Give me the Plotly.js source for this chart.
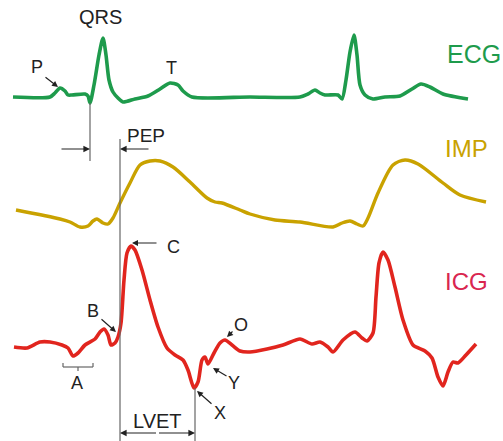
<!DOCTYPE html>
<html>
<head>
<meta charset="utf-8">
<script src="https://cdn.plot.ly/plotly-3.0.1.min.js"></script>
<style>html,body{margin:0;padding:0;background:#fff;}#chart{width:503px;height:441px;}</style>
</head>
<body>
<div id="chart"></div>
<script>
// ---- waveform data (time units, signal units; screen-like scale) ----
const ecgT = [13,50,55,60,65,68,72,85,88,90,94,99,103,106,109,113,118,123,135,148,160,170,178,183,192,250,300,308,315,320,325,338,342,346,350,354,357,360,365,373,385,400,412,421,430,443,468];
const ecgV = [97,97,93,88,91,95,95,94,96,103,85,55,38,55,80,92,98,102,99,96,89,83,85,91,97,97,97,94,90,93,95,95,99,80,52,35,55,85,95,99,97,96,89,84,87,94,99];

const impT = [16,60,70,80,88,93,97,103,108,113,120,130,140,150,160,173,190,207,215,222,240,250,275,300,333,342,350,357,363,368,378,393,405,418,443,460,486];
const impV = [210,219,222,227,226,221,219,223,224,218,203,183,165,161,161,167,182,198,202,203,210,214,220,222,227,223,221,224,226,218,193,165,160,164,183,195,202];

const icgT = [14,27,40,50,62,68,73,78,85,95,100,104,108,111,115,118,121,124,127,131,135,142,150,158,167,175,183,188,194,198,202,205,208,214,220,225,232,240,250,267,283,300,312,320,328,333,343,355,362,367,373,376,379,383,388,395,403,413,425,432,438,443,448,453,458,466,476];
const icgV = [347,348,342,342,345,348,356,353,345,339,332,329,335,345,343,337,323,280,253,246,250,270,300,327,348,355,360,370,388,382,360,357,364,353,343,340,345,351,352,349,345,339,344,342,347,352,340,332,338,341,333,297,263,252,260,287,320,345,351,358,377,386,372,362,363,355,344];

// ---- signal names ----
const signalNames = ["ECG", "IMP", "ICG"];
const signalNameT = [445, 443, 443];
const signalNameV = [54, 148, 281];

// ---- feature point labels ----
const pointLabels = ["QRS", "P", "T", "B", "C", "O", "Y", "X", "A"];
const pointLabelT = [100, 37, 171, 93, 173, 241, 234, 220, 77];
const pointLabelV = [17, 67, 68, 311, 247, 325, 383, 413, 383];

// arrows pointing at features: tail -> head
const arrowTailT = [44, 158, 100, 234, 228, 213];
const arrowTailV = [76, 243, 318, 330, 377, 405];
const arrowHeadT = [58, 132, 116, 227, 213, 197];
const arrowHeadV = [87, 243, 332, 337, 368, 391];

// intervals
const qOnsetT = 90, bPointT = 120, xPointT = 195;
const pepLevel = 149, lvetLevel = 433;

const green = "#1e9b4c", gold = "#c9a200", red = "#e1251e";
const gray = "#666666";

const traces = [
  {x: ecgT, y: ecgV, mode: "lines", line: {color: green, width: 3.6, shape: "spline", smoothing: 0.7}, hoverinfo: "skip"},
  {x: impT, y: impV, mode: "lines", line: {color: gold, width: 3.4, shape: "spline", smoothing: 0.8}, hoverinfo: "skip"},
  {x: icgT, y: icgV, mode: "lines", line: {color: red, width: 3.6, shape: "spline", smoothing: 0.7}, hoverinfo: "skip"}
];

const font = "Liberation Sans, Arial, sans-serif";
const annotations = [];
const nameColors = [green, gold, "#d9264f"];
const nameSizes = [25, 24, 24];
signalNames.forEach((s, i) => annotations.push({
  x: signalNameT[i], y: signalNameV[i], xref: "x", yref: "y", text: s, showarrow: false,
  xanchor: "left", yanchor: "middle", font: {family: font, size: nameSizes[i], color: nameColors[i]}
}));
pointLabels.forEach((s, i) => annotations.push({
  x: pointLabelT[i], y: pointLabelV[i], xref: "x", yref: "y", text: s, showarrow: false,
  xanchor: "center", yanchor: "middle", font: {family: font, size: i === 0 ? 20 : 18, color: "#222"}
}));
annotations.push({x: 146, y: 135, xref: "x", yref: "y", text: "PEP", showarrow: false,
  xanchor: "center", yanchor: "middle", font: {family: font, size: 19, color: "#222"}});
annotations.push({x: (bPointT + xPointT) / 2, y: 421, xref: "x", yref: "y", text: "LVET", showarrow: false,
  xanchor: "center", yanchor: "middle", font: {family: font, size: 20, color: "#222"}});
arrowTailT.forEach((t, i) => annotations.push({
  x: arrowHeadT[i], y: arrowHeadV[i], ax: t, ay: arrowTailV[i], xref: "x", yref: "y", axref: "x", ayref: "y",
  text: "", showarrow: true, arrowhead: 2, arrowsize: 1, arrowwidth: 1.2, arrowcolor: "#222", standoff: 0
}));
// PEP arrows
annotations.push({x: qOnsetT, y: pepLevel, ax: 60, ay: pepLevel, xref: "x", yref: "y", axref: "x", ayref: "y",
  text: "", showarrow: true, arrowhead: 2, arrowsize: 1.1, arrowwidth: 1.2, arrowcolor: "#222"});
annotations.push({x: bPointT, y: pepLevel, ax: 150, ay: pepLevel, xref: "x", yref: "y", axref: "x", ayref: "y",
  text: "", showarrow: true, arrowhead: 2, arrowsize: 1.1, arrowwidth: 1.2, arrowcolor: "#222"});
// LVET arrows
annotations.push({x: bPointT, y: lvetLevel, ax: (bPointT + xPointT) / 2, ay: lvetLevel, xref: "x", yref: "y", axref: "x", ayref: "y",
  text: "", showarrow: true, arrowhead: 2, arrowsize: 1.1, arrowwidth: 1.2, arrowcolor: "#222"});
annotations.push({x: xPointT, y: lvetLevel, ax: (bPointT + xPointT) / 2, ay: lvetLevel, xref: "x", yref: "y", axref: "x", ayref: "y",
  text: "", showarrow: true, arrowhead: 2, arrowsize: 1.1, arrowwidth: 1.2, arrowcolor: "#222"});

const shapes = [
  {type: "line", xref: "x", yref: "y", x0: qOnsetT, x1: qOnsetT, y0: 103, y1: 161, line: {color: gray, width: 1.2}},
  {type: "line", xref: "x", yref: "y", x0: bPointT, x1: bPointT, y0: 139, y1: 441, line: {color: gray, width: 1.2}},
  {type: "line", xref: "x", yref: "y", x0: xPointT, x1: xPointT, y0: 388, y1: 441, line: {color: gray, width: 1.2}},
  // A bracket
  {type: "line", xref: "x", yref: "y", x0: 63, x1: 93, y0: 367, y1: 367, line: {color: gray, width: 1.2}},
  {type: "line", xref: "x", yref: "y", x0: 63, x1: 63, y0: 363, y1: 367, line: {color: gray, width: 1.2}},
  {type: "line", xref: "x", yref: "y", x0: 93, x1: 93, y0: 363, y1: 367, line: {color: gray, width: 1.2}},
  {type: "line", xref: "x", yref: "y", x0: 78, x1: 78, y0: 367, y1: 371, line: {color: gray, width: 1.2}}
];

const layout = {
  width: 503, height: 441, margin: {l: 0, r: 0, t: 0, b: 0},
  paper_bgcolor: "#ffffff", plot_bgcolor: "#ffffff", showlegend: false,
  xaxis: {range: [0, 503], visible: false, fixedrange: true},
  yaxis: {range: [441, 0], visible: false, fixedrange: true},
  annotations: annotations, shapes: shapes
};
Plotly.newPlot("chart", traces, layout, {staticPlot: true, displayModeBar: false});
</script>
</body>
</html>
